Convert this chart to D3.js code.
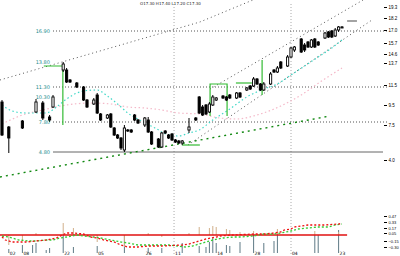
<!DOCTYPE html>
<html>
<head>
<meta charset="utf-8">
<script src="https://cdn.jsdelivr.net/npm/d3@7"></script>
<style>
  body { margin: 0; background: #fff; }
  svg { display: block; font-family: "DejaVu Sans", sans-serif; }
</style>
</head>
<body>
<div class="chart"></div>
<script>
// daily bars (day index) and prices
var days   = [0,2,6,10,12,14,15,18,19,20,22,24,25,27,28,29,31,32,33,34,35,36,37,38,39,40,42,43,44,46,47,48,49,50,51,52,53,55,57,58,59,60,61,62,63,65,66,67,69,70,72,73,74,75,76,77,79,80,81,82,84,85,86,88,89,90,91,92,93,95,96,97,98,99,100];
var opens  = [9.8,7.3,7.9,8.8,9.7,8.3,9.3,13.0,13.0,12.0,11.7,11.3,10.0,9.6,10.5,8.6,8.2,8.6,7.2,6.5,6.2,5.0,7.0,7.0,8.5,8.0,7.5,8.0,6.8,6.1,5.3,6.9,6.5,6.6,6.0,5.9,5.7,7.0,8.2,10.3,9.3,9.5,8.8,9.5,10.0,10.4,10.3,10.5,10.2,10.7,11.0,11.4,11.4,12.1,11.6,11.0,11.6,13.0,12.8,13.8,13.4,14.3,15.0,16.1,15.5,15.8,15.3,16.1,15.8,16.2,16.8,16.9,16.4,17.0,17.3];
var highs  = [10.0,7.4,8.0,10.1,9.9,8.5,10.5,13.8,13.2,12.1,11.8,11.4,10.1,10.2,10.7,8.7,8.6,8.7,7.3,6.6,6.3,7.5,7.1,7.1,8.6,8.1,8.3,8.3,6.9,6.2,6.8,7.0,6.6,6.7,6.1,6.0,6.0,8.2,8.3,10.4,9.5,9.6,9.8,10.5,10.3,10.5,10.4,10.6,10.8,10.8,11.3,11.5,12.3,12.2,11.7,11.8,12.8,13.1,13.4,13.9,14.5,15.3,15.4,16.2,15.7,15.9,16.1,16.2,15.9,16.8,16.9,17.0,17.2,17.4,17.4];
var lows   = [6.4,4.7,7.1,8.7,8.0,7.8,9.2,12.8,11.7,11.7,11.2,9.9,9.2,9.5,8.6,7.9,8.1,7.2,6.4,6.1,5.0,4.8,6.8,6.7,7.9,7.6,7.3,6.7,5.5,5.2,5.2,6.6,6.1,5.9,5.7,5.6,5.5,6.7,7.9,8.6,8.4,8.5,8.7,9.4,9.9,10.1,9.9,10.1,10.1,10.2,10.9,11.0,11.3,11.5,10.9,10.9,11.5,12.7,12.7,13.1,13.3,14.2,14.8,14.7,14.8,15.2,15.2,15.2,15.4,16.1,16.2,16.2,16.3,16.8,17.2];
var closes = [6.5,6.2,7.2,9.8,8.2,8.0,10.3,13.6,11.8,11.8,11.3,10.0,9.3,10.0,8.7,8.0,8.5,7.3,6.5,6.2,5.2,7.2,6.9,6.8,8.0,7.7,8.2,6.8,5.6,5.3,6.7,6.7,6.2,6.0,5.8,5.7,5.9,7.3,8.0,8.7,8.5,8.6,9.6,10.3,10.2,10.2,10.0,10.2,10.7,10.3,11.2,11.1,12.1,11.6,11.0,11.6,12.6,12.8,13.2,13.2,14.3,15.2,15.3,14.8,15.0,15.3,16.0,15.3,15.5,16.7,16.3,16.3,17.0,17.3,17.3];

// moving averages (sampled)
var maShortDays = [0,3,7,13,16,19,22,25,28,31,34,37,41,45,49,52,55,58,62,67,72,77,81,85,89,93,97,100];
var maShort     = [9.5,8.9,8.7,8.7,9.3,10.1,10.7,10.95,11.0,10.4,9.6,8.7,7.9,7.2,6.5,6.4,6.7,7.0,8.0,9.1,10.3,11.1,11.6,12.5,13.4,14.3,15.2,16.0];
var maLongDays  = [0,6,12,19,26,32,37,42,47,52,58,64,69,75,82,88,94,100];
var maLong      = [7.6,8.5,9.0,9.5,9.7,9.6,9.3,9.2,9.0,8.7,8.6,8.2,8.1,8.5,9.4,10.5,11.9,13.2];

// levels and trend lines
var levels     = [16.9, 11.3, 7.8];
var supportLvl = 4.8;
var leftLabels = [16.9, 13.8, 11.3, 10.3, 7.8, 4.8];
var trendUpper = [[-0.6, 12.0], [58.2, 17.8], [73.8, 20.0]];
var channelA   = [[61.2, 11.1], [106.2, 20.0]];
var channelB   = [[54.7, 5.5], [108.8, 18.0]];
var longTrend  = [[-0.6, 2.3], [96.5, 8.4]];
var markHigh   = [[12.3, 13.4], [17.9, 13.4], [17.9, 7.5]];
var markBox    = [[61.2, 8.4], [61.2, 11.6], [66.2, 11.6], [66.2, 8.4]];
var markFlat1  = [[68.8, 11.7], [73.5, 11.7]];
var markFlat2  = [[52.9, 5.5], [58.2, 5.5]];
var markVert   = [[76.5, 14.0], [76.5, 10.5]];
var lastMark   = [[101.5, 17.9], [104.4, 17.9]];
var monthDays  = [50.6, 85];
var priceTicks = [19.3, 18.2, 17.0, 15.7, 14.6, 13.7, 11.5, 9.5, 7.5, 4.0];

// lower panel
var volDays = [2,6,9,10,13,14,18,21,28,36,43,47,53,58,60,61,62,63,66,67,70,74,77,80,81,92,93,99];
var volumes = [4,8,8,10,3,5,18,6,7,18,5,5,10,7,6,11,15,10,8,7,11,18,10,12,18,18,18,23];
var histDays = [2,6,10,18,21,28,36,43,47,55,58,61,62,63,66,67,70,74,81,92,99];
var histVals = [-0.25,-0.15,0.05,0.3,0.175,-0.175,-0.3,0.05,-0.05,0.05,0.2,0.175,0.225,0.2,0.15,0.125,0.075,0.1,0.15,0.1,0.075];
var difDays = [0,1,3,7,10,13,16,19,21,24,26,28,30,33,35,37,40,43,47,53,55,58,60,63,64,68,74,77,80,82,83,85,86,88,90,92,95,99,100];
var difVals = [-0.05,-0.125,-0.175,-0.175,-0.15,-0.125,-0.075,0.05,0.05,0.025,-0.05,-0.075,-0.125,-0.175,-0.25,-0.3,-0.3,-0.275,-0.275,-0.25,-0.225,-0.15,-0.1,-0.05,-0.025,0,0.025,0.025,0.05,0.075,0.125,0.15,0.2,0.225,0.25,0.25,0.25,0.275,0.3];
var deaDays = [0,2,3,5,8,10,13,15,17,19,22,24,27,29,32,35,37,40,43,46,49,54,56,58,60,62,65,68,70,74,77,80,82,85,87,90,93,96,98,100];
var deaVals = [-0.025,-0.05,-0.075,-0.125,-0.15,-0.15,-0.125,-0.125,-0.075,-0.05,0,-0.025,-0.05,-0.075,-0.125,-0.175,-0.2,-0.25,-0.25,-0.25,-0.25,-0.3,-0.275,-0.225,-0.175,-0.125,-0.075,-0.05,-0.05,-0.025,0.025,0.025,0.05,0.1,0.15,0.175,0.2,0.2,0.25,0.275];
var oscTicks = [0.475, 0.325, 0.175, 0.05, -0.15, -0.3];
var dateDays = [2, 6, 18, 28, 42, 50.6, 63, 74, 85, 99];
var dateLbls = ["02", "08", "22", "05", "26", "11", "14", "28", "04", "23"];

var svg = d3.select(".chart").append("svg")
  .attr("width", 400)
  .attr("height", 256);

var x = d3.scaleLinear().domain([0, 100]).range([2, 342]);
var y = d3.scaleLinear().domain([20, 4]).range([0, 160]);
var osc = d3.scaleLinear().domain([-0.6, 0.6]).range([259, 211]);
var vol = d3.scaleLinear().domain([0, 25]).range([253, 228]);

var line = d3.line().x(d => x(d[0])).y(d => y(d[1]));
var zip = (a, b) => a.map((v, i) => [v, b[i]]);

// month separators
svg.selectAll(".month")
  .data(monthDays)
  .enter().append("line")
  .attr("x1", d => x(d)).attr("x2", d => x(d))
  .attr("y1", 4).attr("y2", 256)
  .attr("stroke", "#aaa")
  .attr("stroke-dasharray", "1,2");

// horizontal levels
svg.selectAll(".level")
  .data(levels)
  .enter().append("line")
  .attr("x1", x(15)).attr("x2", 388)
  .attr("y1", d => y(d)).attr("y2", d => y(d))
  .attr("stroke", "#555")
  .attr("stroke-dasharray", "1,2");

svg.append("line")
  .attr("x1", x(15)).attr("x2", 383)
  .attr("y1", y(supportLvl)).attr("y2", y(supportLvl))
  .attr("stroke", "#666");

// trend lines
[trendUpper, channelA, channelB].forEach(function(t) {
  svg.append("path")
    .attr("d", line(t))
    .attr("fill", "none")
    .attr("stroke", "#555")
    .attr("stroke-dasharray", "1,3");
});

svg.append("path")
  .attr("d", line(longTrend))
  .attr("fill", "none")
  .attr("stroke", "#118811")
  .attr("stroke-width", 1.4)
  .attr("stroke-dasharray", "2,4");

// moving averages
svg.append("path")
  .attr("d", d3.line().curve(d3.curveMonotoneX).x(d => x(d[0])).y(d => y(d[1]))(zip(maLongDays, maLong)))
  .attr("fill", "none")
  .attr("stroke", "#f4b8c8")
  .attr("stroke-width", 1.2)
  .attr("stroke-dasharray", "1.5,2.5");

svg.append("path")
  .attr("d", d3.line().curve(d3.curveMonotoneX).x(d => x(d[0])).y(d => y(d[1]))(zip(maShortDays, maShort)))
  .attr("fill", "none")
  .attr("stroke", "#40d8c8")
  .attr("stroke-width", 1.2)
  .attr("stroke-dasharray", "1.5,2.5");

// green markers
[markHigh, markBox, markFlat1, markFlat2, markVert].forEach(function(m) {
  svg.append("path")
    .attr("d", line(m))
    .attr("fill", "none")
    .attr("stroke", "#33bb33")
    .attr("stroke-width", 1.2);
});

svg.append("path")
  .attr("d", line(lastMark))
  .attr("stroke", "#666")
  .attr("stroke-width", 1.2);

// candles
var bars = days.map((d, i) => ({ d: d, o: opens[i], h: highs[i], l: lows[i], c: closes[i] }));
var candles = svg.append("g").selectAll("g")
  .data(bars)
  .enter().append("g");

candles.append("line")
  .attr("x1", d => x(d.d)).attr("x2", d => x(d.d))
  .attr("y1", d => y(d.h)).attr("y2", d => y(d.l))
  .attr("stroke", "#000");

candles.append("rect")
  .attr("x", d => x(d.d) - 1.1)
  .attr("width", 2.2)
  .attr("y", d => y(Math.max(d.o, d.c)))
  .attr("height", d => Math.max(1, Math.abs(y(d.o) - y(d.c))))
  .attr("fill", d => d.c >= d.o ? "#fff" : "#000")
  .attr("stroke", "#000")
  .attr("stroke-width", 0.9);

// left level labels
svg.selectAll(".llab")
  .data(leftLabels)
  .enter().append("text")
  .attr("x", 50)
  .attr("y", d => y(d) + 2)
  .attr("text-anchor", "end")
  .attr("font-size", 5)
  .attr("fill", "#1a8c8c")
  .text(d => d.toFixed(2));

// title
svg.append("text")
  .attr("x", 140).attr("y", 5)
  .attr("font-size", 4)
  .attr("fill", "#222")
  .text("O17.30 H17.40 L17.20 C17.30");

// right price axis
var rightAxis = d3.axisRight(y).tickValues(priceTicks).tickSize(3).tickPadding(1.5).tickFormat(d3.format(".1f"));
var ra = svg.append("g").attr("transform", "translate(384,0)").call(rightAxis);
ra.select(".domain").remove();
ra.selectAll("text").attr("font-size", 4.5);

// lower panel: volume
svg.selectAll(".vol")
  .data(zip(volDays, volumes))
  .enter().append("rect")
  .attr("x", d => x(d[0]) - 0.5)
  .attr("width", 1)
  .attr("y", d => vol(d[1]))
  .attr("height", d => vol(0) - vol(d[1]))
  .attr("fill", "#5f7a86");

// histogram
svg.selectAll(".hist")
  .data(zip(histDays, histVals))
  .enter().append("rect")
  .attr("x", d => x(d[0]) - 0.5)
  .attr("width", 1)
  .attr("y", d => osc(Math.max(0, d[1])))
  .attr("height", d => Math.abs(osc(d[1]) - osc(0)))
  .attr("fill", "#d2b08a");

svg.append("line")
  .attr("x1", 0).attr("x2", x(101.5))
  .attr("y1", osc(0)).attr("y2", osc(0))
  .attr("stroke", "#e01010")
  .attr("stroke-width", 1.4);

var oline = d3.line().x(d => x(d[0])).y(d => osc(d[1]));
svg.append("path")
  .attr("d", oline(zip(deaDays, deaVals)))
  .attr("fill", "none")
  .attr("stroke", "#33cc33")
  .attr("stroke-width", 1.3)
  .attr("stroke-dasharray", "2,2");
svg.append("path")
  .attr("d", oline(zip(difDays, difVals)))
  .attr("fill", "none")
  .attr("stroke", "#ee1111")
  .attr("stroke-width", 1.3)
  .attr("stroke-dasharray", "2,2");

var oscAxis = d3.axisRight(osc).tickValues(oscTicks).tickSize(3).tickPadding(1.5).tickFormat(d3.format(".2f"));
var oa = svg.append("g").attr("transform", "translate(384,0)").call(oscAxis);
oa.select(".domain").remove();
oa.selectAll("text").attr("font-size", 4);

// date labels
svg.selectAll(".date")
  .data(zip(dateDays, dateLbls))
  .enter().append("text")
  .attr("x", d => x(d[0]) + 1)
  .attr("y", 255)
  .attr("font-size", 4.5)
  .attr("fill", "#000")
  .text(d => d[1]);
</script>
</body>
</html>
